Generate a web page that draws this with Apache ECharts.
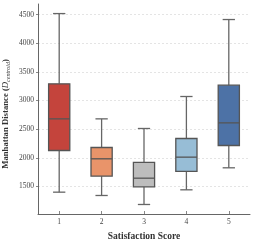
<!DOCTYPE html>
<html><head><meta charset="utf-8">
<script src="https://cdn.jsdelivr.net/npm/echarts@6/dist/echarts.min.js"></script>
<style>html,body{margin:0;padding:0;background:#fff}#c{width:254px;height:242px}</style>
</head><body><div id="c"></div>
<script>
const categories = ['1','2','3','4','5'];
const lowWhisker = [1401, 1343, 1186, 1442, 1826];
const q1 = [2128, 1680, 1494, 1762, 2215];
const median = [2680, 1983, 1645, 2012, 2610];
const q3 = [3291, 2180, 1919, 2337, 3267];
const highWhisker = [4517, 2680, 2512, 3070, 4413];
const yTicks = [1500, 2000, 2500, 3000, 3500, 4000, 4500];
const boxColors = ['#c4443c', '#e9946a', '#bdbdbd', '#97bdd6', '#4d72a6'];

const data = categories.map((c, i) => [i, lowWhisker[i], q1[i], median[i], q3[i], highWhisker[i]]);
const serif = '"Liberation Serif","DejaVu Serif",serif';

const chart = echarts.init(document.getElementById('c'), null, {renderer: 'canvas'});
chart.setOption({
  animation: false,
  grid: {left: 38, right: 4, top: 4, bottom: 28, containLabel: false, outerBoundsMode: 'none'},
  xAxis: {
    type: 'category', data: categories, boundaryGap: true,
    name: 'Satisfaction Score', nameLocation: 'middle', nameGap: 18, nameMoveOverlap: false,
    nameTextStyle: {fontFamily: serif, fontWeight: 'bold', fontSize: 9.5, color: '#333'},
    axisLine: {lineStyle: {color: '#666', width: 1}},
    axisTick: {show: true, alignWithLabel: true, inside: true, length: 3, lineStyle: {color: '#888'}},
    axisLabel: {fontFamily: serif, fontSize: 7.5, color: '#444', margin: 4},
    splitLine: {show: false}
  },
  yAxis: {
    type: 'value', min: 1020, max: 4684,
    name: '{b|Manhattan Distance (}{i|D}{s|centroid}{b|)}',
    nameLocation: 'middle', nameGap: 27, nameRotate: 90, nameMoveOverlap: false,
    nameTextStyle: {
      fontFamily: serif, color: '#333', padding: [0, 10, 0, 0],
      rich: {
        b: {fontFamily: serif, fontWeight: 'bold', fontSize: 8.7, color: '#333'},
        i: {fontFamily: serif, fontStyle: 'italic', fontSize: 8.7, color: '#333'},
        s: {fontFamily: serif, fontStyle: 'italic', fontSize: 6, color: '#333', verticalAlign: 'bottom', padding: [4, 0, 0, 0]}
      }
    },
    axisLine: {show: true, lineStyle: {color: '#666', width: 1}},
    axisTick: {show: true, length: 2, customValues: yTicks, lineStyle: {color: '#888'}},
    axisLabel: {fontFamily: serif, fontSize: 7.5, color: '#444', margin: 4, customValues: yTicks,
      formatter: function (v) { return String(v); }},
    splitLine: {show: true, lineStyle: {color: '#ddd', type: [2, 2], width: 0.8}}
  },
  series: [{
    type: 'custom',
    data: data,
    encode: {x: 0, y: [1, 2, 3, 4, 5]},
    renderItem: function (params, api) {
      const idx = api.value(0);
      const band = api.size([1, 0])[0];
      const bw = band * 0.5;
      const cw = band * 0.29;
      const pLow = api.coord([idx, api.value(1)]);
      const pQ1 = api.coord([idx, api.value(2)]);
      const pMed = api.coord([idx, api.value(3)]);
      const pQ3 = api.coord([idx, api.value(4)]);
      const pHigh = api.coord([idx, api.value(5)]);
      const x = pMed[0];
      const wStyle = {stroke: '#666', lineWidth: 1.3, fill: null};
      return {
        type: 'group',
        children: [
          {type: 'line', shape: {x1: x, y1: pLow[1], x2: x, y2: pQ1[1]}, style: wStyle},
          {type: 'line', shape: {x1: x, y1: pQ3[1], x2: x, y2: pHigh[1]}, style: wStyle},
          {type: 'line', shape: {x1: x - cw / 2, y1: pLow[1], x2: x + cw / 2, y2: pLow[1]}, style: wStyle},
          {type: 'line', shape: {x1: x - cw / 2, y1: pHigh[1], x2: x + cw / 2, y2: pHigh[1]}, style: wStyle},
          {type: 'rect', shape: {x: x - bw / 2, y: pQ3[1], width: bw, height: pQ1[1] - pQ3[1]},
            style: {fill: boxColors[idx], stroke: '#555', lineWidth: 1.3}},
          {type: 'line', shape: {x1: x - bw / 2, y1: pMed[1], x2: x + bw / 2, y2: pMed[1]},
            style: {stroke: '#555', lineWidth: 1.3}}
        ]
      };
    }
  }]
});
</script></body></html>
